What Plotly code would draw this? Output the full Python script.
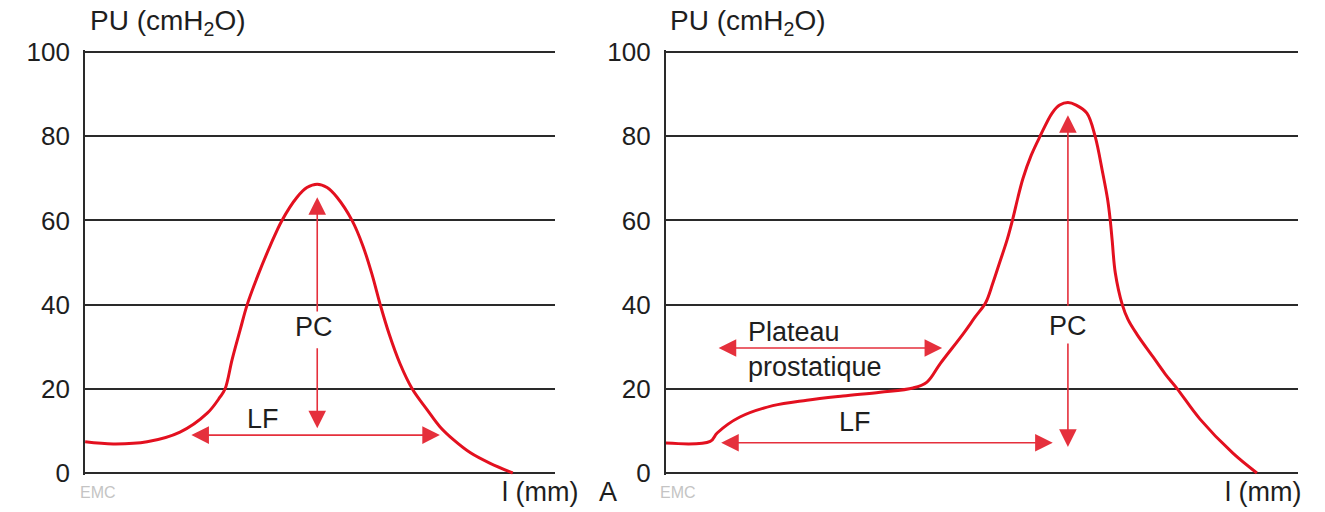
import plotly.graph_objects as go

# ---------------- data ----------------
# left panel: urethral pressure profile, length axis in arbitrary units (0-100)
left_l = [0, 6.0, 13.2, 20.2, 26.0, 28.7, 29.8, 31.3, 33.0, 34.5, 36.8, 39.4, 41.9,
          45.1, 47.2, 49.4, 51.5, 53.6, 56.8, 59.1, 61.1, 62.8, 64.7, 67.0, 69.6,
          72.8, 75.5, 78.5, 82.0, 86.2, 91.0]
left_pu = [7.4, 6.9, 7.4, 9.7, 14.2, 18, 20, 27, 34, 40, 47, 54, 60,
           65.5, 67.8, 68.6, 67.8, 65.5, 60, 54, 47, 40, 33, 26, 20,
           15, 11, 7.8, 4.8, 2.3, 0]

# right panel: profile with prostatic plateau
right_l = [0, 7.0, 8.1, 11.7, 16.9, 22.3, 28.0, 33.9, 39.1, 41.3, 43.4, 47.0, 48.9,
           50.6, 51.7, 52.8, 54.0, 54.9, 55.7, 56.5, 57.8, 59.2, 61.1, 62.3, 63.6,
           64.9, 66.6, 67.9, 69.1, 69.9, 70.3, 70.6, 71.1, 72.2, 73.1, 74.5, 77.1,
           79.0, 80.9, 84.5, 89.7, 93.5]
right_pu = [7.1, 7.5, 9.5, 13.3, 16.0, 17.3, 18.3, 19.2, 20.2, 21.6, 26, 33, 37,
            40.5, 45, 50, 55.5, 60.5, 65.5, 70, 75.5, 80, 85.5, 87.4, 88,
            87.4, 85.5, 80, 71.3, 64.8, 60, 55.3, 47.5, 40, 36.5, 33, 27.5,
            23.5, 20, 12.8, 4.7, 0]

y_ticks = [0, 20, 40, 60, 80, 100]
y_title = "PU (cmH<sub>2</sub>O)"
x_title = "l (mm)"

RED = "#e3101f"
ARROW_RED = "#e5303c"
TXT = "#1e1e1e"
GRID = "#2a2a2a"
FONT = "Liberation Sans, Arial, sans-serif"
FS_TICK = 26
FS = 27

fig = go.Figure()
fig.add_trace(go.Scatter(x=left_l, y=left_pu, mode="lines", xaxis="x", yaxis="y",
                         line=dict(color=RED, width=3, shape="spline", smoothing=1.0),
                         hoverinfo="skip"))
fig.add_trace(go.Scatter(x=right_l, y=right_pu, mode="lines", xaxis="x2", yaxis="y2",
                         line=dict(color=RED, width=3, shape="spline", smoothing=1.0),
                         hoverinfo="skip"))

xax = dict(range=[0, 100], visible=False, fixedrange=True, automargin=False)
yax = dict(range=[-0.4, 100.4], tickvals=y_ticks, showgrid=True, gridcolor=GRID, gridwidth=2,
           zeroline=False, showline=True, linecolor=GRID, linewidth=2,
           ticks="", ticklabelstandoff=8, automargin=False,
           tickfont=dict(family=FONT, size=FS_TICK, color=TXT), fixedrange=True)

y_dom = [0.0762 - 0.0033, 0.8984 + 0.0033]
fig.update_layout(
    width=1325, height=512,
    margin=dict(l=0, r=0, t=0, b=0, autoexpand=False),
    paper_bgcolor="white", plot_bgcolor="white",
    showlegend=False,
    xaxis=dict(xax, domain=[0.0642, 0.4189], anchor="y"),
    yaxis=dict(yax, domain=y_dom, anchor="x"),
    xaxis2=dict(xax, domain=[0.5026, 0.9796], anchor="y2"),
    yaxis2=dict(yax, domain=y_dom, anchor="x2"),
)

ann = []


def arrow(xr, yr, x, y, ax, ay, both=False):
    ann.append(dict(xref=xr, yref=yr, axref=xr, ayref=yr, x=x, y=y, ax=ax, ay=ay,
                    text="", showarrow=True, arrowhead=2, arrowsize=2.2, arrowwidth=1.6,
                    arrowcolor=ARROW_RED, arrowside="end+start" if both else "end",
                    standoff=0, startstandoff=0))


def label(xr, yr, x, y, t, xanchor="center", size=FS, color=TXT):
    ann.append(dict(xref=xr, yref=yr, x=x, y=y, text=t, showarrow=False,
                    xanchor=xanchor, yanchor="middle",
                    font=dict(family=FONT, size=size, color=color)))


# left panel annotations
pk_l = left_l[left_pu.index(max(left_pu))]
arrow("x", "y", pk_l, 65.5, pk_l, 38)
arrow("x", "y", pk_l, 10.6, pk_l, 30)
label("x", "y", pk_l - 0.6, 34.6, "PC")
arrow("x", "y", 75.5, 9.0, 22.3, 9.0, both=True)
label("x", "y", 37.9, 12.8, "LF")

# right panel annotations
pk_r = right_l[right_pu.index(max(right_pu))]
arrow("x2", "y2", pk_r, 85, pk_r, 39.4)
arrow("x2", "y2", pk_r, 6.2, pk_r, 31.1)
label("x2", "y2", pk_r, 35, "PC")
arrow("x2", "y2", 61.2, 7.2, 8.5, 7.2, both=True)
label("x2", "y2", 29.9, 12.0, "LF")
arrow("x2", "y2", 43.7, 29.7, 8.1, 29.7, both=True)
label("x2", "y2", 12.6, 33.6, "Plateau", xanchor="left")
label("x2", "y2", 12.6, 25.2, "prostatique", xanchor="left")

# axis titles and panel letters
for xp in (0.0664, 0.5042):
    ann.append(dict(xref="paper", yref="paper", x=xp, y=0.957, text=y_title, showarrow=False,
                    xanchor="left", yanchor="middle", font=dict(family=FONT, size=28, color=TXT)))
    ann.append(dict(xref="paper", yref="paper", x=xp + 0.0075, y=0.039, text="EMC", showarrow=False,
                    xanchor="center", yanchor="middle",
                    font=dict(family=FONT, size=16, color="#c4c4c4")))
for xp in (0.4075, 0.9532):
    ann.append(dict(xref="paper", yref="paper", x=xp, y=0.039, text=x_title, showarrow=False,
                    xanchor="center", yanchor="middle", font=dict(family=FONT, size=FS, color=TXT)))
ann.append(dict(xref="paper", yref="paper", x=0.4585, y=0.039, text="A", showarrow=False,
                xanchor="center", yanchor="middle", font=dict(family=FONT, size=FS, color=TXT)))

fig.update_layout(annotations=ann)
fig.write_html("out.html")
